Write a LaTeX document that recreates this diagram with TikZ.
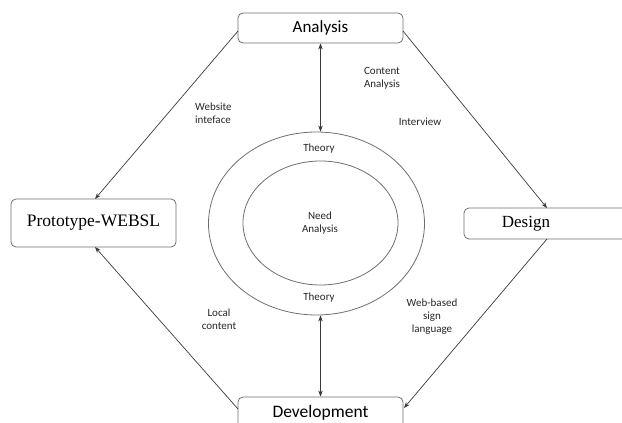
\documentclass[tikz,border=0pt]{standalone}
\usepackage{fontspec}
\setmainfont{Carlito}
\newfontfamily\serifface{Liberation Serif}
\usetikzlibrary{arrows.meta,shapes.geometric}
\definecolor{linec}{HTML}{3A3A3A}
\definecolor{boxc}{HTML}{6E6E6E}
\begin{document}
\begin{tikzpicture}[x=1pt,y=-1pt,
  boxsty/.style={draw=boxc,line width=0.8pt,rounded corners=5pt,inner sep=0pt},
  conn/.style={draw=linec,line width=0.7pt,-{Stealth[length=6pt,width=4.5pt]}},
  dconn/.style={draw=linec,line width=0.7pt,{Stealth[length=6pt,width=4.5pt]}-{Stealth[length=6pt,width=4.5pt]}},
  lbl/.style={font=\fontsize{11}{13}\selectfont,align=center,inner sep=0pt,text=black!85},
  ring/.style={draw=boxc,line width=0.8pt,ellipse,inner sep=0pt}]
\useasboundingbox (0,0) rectangle (622,423);
% boxes
\node[boxsty,minimum width=165pt,minimum height=30pt,font=\fontsize{17}{20}\selectfont] (ana) at (320.5,28) {Analysis};
\node[boxsty,minimum width=165pt,minimum height=48pt,font=\serifface\fontsize{17.5}{20}\selectfont] (pro) at (93.5,223) {Prototype-WEBSL};
\node[boxsty,minimum width=190pt,minimum height=31pt] (des) at (559,223.5) {};
\node[font=\serifface\fontsize{17}{20}\selectfont,inner sep=0pt] (destxt) at (526,223.5) {Design};
\node[boxsty,minimum width=165pt,minimum height=40pt] (dev) at (320.5,417) {};
\node[font=\fontsize{17.5}{20}\selectfont,inner sep=0pt,anchor=base] (devtxt) at (320.5,417) {Development};
% ellipses
\node[ring,minimum width=216pt,minimum height=183pt] (outer) at (316.5,223.5) {};
\node[ring,minimum width=155pt,minimum height=124pt] (inner) at (320.5,223) {};
% anchor coordinates
\coordinate (anaL) at (238,31);
\coordinate (anaR) at (403,31);
\coordinate (proT) at (95,199);
\coordinate (proB) at (95,247);
\coordinate (desT) at (547,208);
\coordinate (desB) at (547,239);
\coordinate (devL) at (238,409);
\coordinate (devR) at (404,408);
% connectors
\draw[conn] (anaL) -- (proT);
\draw[conn] (anaR) -- (desT);
\draw[conn] (desB) -- (devR);
\draw[conn] (devL) -- (proB);
\draw[dconn] (ana.south) -- (ana.south |- outer.north);
\draw[dconn] (dev.north |- outer.south) -- (dev.north);
% labels
\node[lbl,align=left,anchor=west] (l1) at (195,113) {Website\\inteface};
\node[lbl] (l2) at (382,78.5) {Content\\Analysis};
\node[lbl] (l3) at (420,122) {Interview};
\node[lbl] (l4) at (219,319) {Local\\content};
\node[lbl] (l5) at (432,317) {Web-based\\sign\\language};
\node[lbl] (t1) at (319,149) {Theory};
\node[lbl] (t2) at (319,298) {Theory};
\node[lbl] (na) at (320,223) {Need\\Analysis};
\end{tikzpicture}
\end{document}
